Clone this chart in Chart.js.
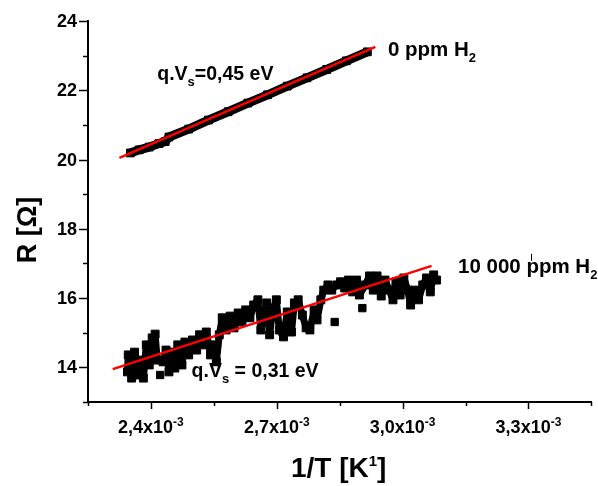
<!DOCTYPE html>
<html>
<head>
<meta charset="utf-8">
<script src="https://cdn.jsdelivr.net/npm/chart.js@4.4.1/dist/chart.umd.min.js"></script>
<style>
html,body{margin:0;padding:0;background:#fff;}
#wrap{width:598px;height:486px;}
</style>
</head>
<body>
<div id="wrap"><canvas id="c" width="598" height="486"></canvas></div>
<script>
// ---- data (x in units of 1e-3 K^-1, y in Ohm) ----
const upperX = [2.351, 2.372, 2.396, 2.419, 2.434, 2.443, 2.490, 2.537, 2.584, 2.631, 2.678, 2.725, 2.772, 2.819, 2.866, 2.916];
const upperY = [20.19, 20.28, 20.36, 20.46, 20.52, 20.65, 20.88, 21.14, 21.38, 21.63, 21.87, 22.12, 22.36, 22.60, 22.85, 23.11];

const lowerX = [2.344, 2.346, 2.354, 2.361, 2.368, 2.375, 2.382, 2.389, 2.396, 2.403, 2.410, 2.415, 2.429, 2.436, 2.443, 2.450, 2.457, 2.464, 2.474, 2.481, 2.490, 2.499, 2.509, 2.516, 2.525, 2.532, 2.542, 2.549, 2.556, 2.563, 2.570, 2.579, 2.589, 2.598, 2.608, 2.617, 2.626, 2.636, 2.645, 2.655, 2.662, 2.669, 2.676, 2.683, 2.690, 2.699, 2.706, 2.716, 2.725, 2.735, 2.742, 2.751, 2.761, 2.770, 2.779, 2.789, 2.796, 2.805, 2.812, 2.822, 2.831, 2.843, 2.852, 2.862, 2.871, 2.881, 2.890, 2.897, 2.911, 2.921, 2.930, 2.939, 2.949, 2.958, 2.968, 2.977, 2.984, 2.994, 3.003, 3.012, 3.019, 3.029, 3.038, 3.048, 3.057, 3.066, 3.074, 3.081];
const lowerY = [13.87, 14.36, 13.69, 14.44, 13.78, 14.21, 13.69, 14.65, 14.07, 14.85, 14.96, 14.21, 14.16, 14.50, 13.87, 14.44, 13.98, 14.65, 14.07, 14.73, 14.36, 14.79, 14.50, 14.94, 14.65, 15.02, 14.36, 14.65, 14.16, 14.94, 15.43, 15.08, 15.48, 15.14, 15.57, 15.31, 15.66, 15.43, 15.80, 15.95, 15.08, 15.43, 15.86, 14.94, 15.66, 15.95, 15.08, 14.88, 15.60, 15.02, 15.86, 15.95, 15.51, 15.14, 15.08, 15.66, 15.37, 15.95, 16.23, 16.38, 16.23, 16.38, 16.47, 16.29, 16.52, 16.18, 16.52, 16.09, 16.38, 16.64, 16.23, 16.64, 16.06, 16.52, 16.23, 15.95, 16.47, 16.09, 16.58, 16.23, 15.80, 16.23, 15.95, 16.38, 16.58, 16.18, 16.67, 16.52];
const lowerIsoX = [2.422, 2.838, 2.904];
const lowerIsoY = [13.78, 15.31, 15.71];

const fitUpperX = [2.325, 2.935];
const fitUpperY = [20.05, 23.25];
const fitLowerX = [2.309, 3.069];
const fitLowerY = [13.95, 16.93];

const xMajorTicks = [2.4, 2.7, 3.0, 3.3];
const xTickMantissa = ['2,4', '2,7', '3,0', '3,3'];
const xTickExponent = '-3';
const yMajorTicks = [14, 16, 18, 20, 22, 24];
const yTickLabels = ['14', '16', '18', '20', '22', '24'];
const xMinorStep = 0.15;
const yMinorStep = 1;

const xTitle = ['1/T [K', '1', ']'];
const yTitle = 'R [Ω]';
const annotations = [
  {x: 2.415, y: 22.30, size: 19.5, parts: [['q.V', 0], ['s', 1], ['=0,45 eV', 0]]},
  {x: 2.965, y: 22.99, size: 20.5, parts: [['0 ppm H', 0], ['2', 1]]},
  {x: 3.132, y: 16.73, size: 20.5, mark: '10 000 ', parts: [['10 000 ppm H', 0], ['2', 1]]},
  {x: 2.497, y: 13.72, size: 19.5, parts: [['q.V', 0], ['s', 1], [' = 0,31 eV', 0]]}
];

const zip = (xs, ys) => xs.map((v, i) => ({x: v, y: ys[i]}));
const FONT = '"Liberation Sans", Arial, sans-serif';

function richWidth(ctx, parts, big, small) {
  let w = 0;
  for (const [t, k] of parts) {
    ctx.font = 'bold ' + (k === 0 ? big : small) + 'px ' + FONT;
    w += ctx.measureText(t).width;
  }
  return w;
}
function drawRich(ctx, x, y, parts, big, small, subDy, supDy) {
  let cx = x;
  for (const [t, k] of parts) {
    ctx.font = 'bold ' + (k === 0 ? big : small) + 'px ' + FONT;
    let dy = 0;
    if (k === 1) dy = subDy;
    if (k === 2) dy = supDy;
    ctx.fillText(t, cx, y + dy);
    cx += ctx.measureText(t).width;
  }
}

const decor = {
  id: 'decor',
  afterDraw(chart) {
    const ctx = chart.ctx;
    const xs = chart.scales.x, ys = chart.scales.y;
    const left = chart.chartArea.left, bottom = chart.chartArea.bottom;
    ctx.save();
    ctx.strokeStyle = '#000';
    ctx.fillStyle = '#000';
    ctx.lineWidth = 1.5;
    for (let v = ys.min; v <= ys.max + 1e-9; v += yMinorStep) {
      const major = yMajorTicks.some(m => Math.abs(m - v) < 1e-6);
      const py = Math.round(ys.getPixelForValue(v)) + 0.5;
      ctx.beginPath();
      ctx.moveTo(left, py);
      ctx.lineTo(left - (major ? 9 : 5), py);
      ctx.stroke();
    }
    for (let v = xs.min; v <= xs.max + 1e-9; v += xMinorStep) {
      const major = xMajorTicks.some(m => Math.abs(m - v) < 1e-6);
      const px = Math.round(xs.getPixelForValue(v)) + 0.5;
      ctx.beginPath();
      ctx.moveTo(px, bottom);
      ctx.lineTo(px, bottom + (major ? 7 : 4));
      ctx.stroke();
    }
    ctx.font = 'bold 18px ' + FONT;
    ctx.textAlign = 'right';
    ctx.textBaseline = 'middle';
    yMajorTicks.forEach((v, i) => {
      ctx.fillText(yTickLabels[i], 77, ys.getPixelForValue(v) + 1);
    });
    ctx.textAlign = 'left';
    ctx.textBaseline = 'alphabetic';
    xMajorTicks.forEach((v, i) => {
      const parts = [[xTickMantissa[i] + 'x10', 0], [xTickExponent, 2]];
      const w = richWidth(ctx, parts, 18, 12);
      const px = xs.getPixelForValue(v);
      drawRich(ctx, px - w / 2, 433, parts, 18, 12, 0, -7);
    });
    {
      const parts = [[xTitle[0], 0], [xTitle[1], 2], [xTitle[2], 0]];
      const w = richWidth(ctx, parts, 28, 15);
      const cx = (chart.chartArea.left + chart.chartArea.right) / 2 - 1;
      drawRich(ctx, cx - w / 2, 477, parts, 28, 15, 0, -11);
    }
    ctx.save();
    ctx.translate(36, 230);
    ctx.rotate(-Math.PI / 2);
    ctx.font = 'bold 27px ' + FONT;
    ctx.textAlign = 'center';
    ctx.fillText(yTitle, 0, 0);
    ctx.restore();
    ctx.textAlign = 'left';
    annotations.forEach(a => {
      const px = xs.getPixelForValue(a.x);
      const py = ys.getPixelForValue(a.y);
      drawRich(ctx, px, py, a.parts, a.size, 13, 6, 0);
      if (a.mark) {
        ctx.font = 'bold ' + a.size + 'px ' + FONT;
        const mx = Math.round(px + ctx.measureText(a.mark).width + 5) + 0.5;
        ctx.lineWidth = 1;
        ctx.beginPath();
        ctx.moveTo(mx, py - 19);
        ctx.lineTo(mx, py - 12);
        ctx.stroke();
      }
    });
    ctx.restore();
  }
};

new Chart(document.getElementById('c'), {
  type: 'line',
  data: {
    datasets: [
      {label: 'fit 0 ppm', data: zip(fitUpperX, fitUpperY), borderColor: '#ff0000', borderWidth: 2.5, pointRadius: 0, order: 0},
      {label: 'fit 10000 ppm', data: zip(fitLowerX, fitLowerY), borderColor: '#ff0000', borderWidth: 2.5, pointRadius: 0, order: 0},
      {label: '0 ppm H2', data: zip(upperX, upperY), borderColor: '#000', backgroundColor: '#000', borderWidth: 9, borderCapStyle: 'butt', borderJoinStyle: 'round', pointStyle: 'rect', pointRadius: 5.5, pointBorderWidth: 1, pointBorderColor: '#000', pointBackgroundColor: '#000', order: 2},
      {label: '10000 ppm H2', data: zip(lowerX, lowerY), borderColor: '#000', backgroundColor: '#000', borderWidth: 7, borderJoinStyle: 'round', pointStyle: 'rect', pointRadius: 5.6, pointBorderWidth: 1, pointBorderColor: '#000', pointBackgroundColor: '#000', order: 2},
      {label: '10000 ppm H2 (isolated)', data: zip(lowerIsoX, lowerIsoY), showLine: false, borderColor: '#000', backgroundColor: '#000', pointStyle: 'rect', pointRadius: 5.2, pointBorderWidth: 1, pointBorderColor: '#000', pointBackgroundColor: '#000', order: 2}
    ]
  },
  options: {
    responsive: false,
    animation: false,
    events: [],
    layout: {padding: {top: 21, right: 0, left: 0, bottom: 0}},
    plugins: {legend: {display: false}, tooltip: {enabled: false}},
    elements: {line: {tension: 0}},
    scales: {
      x: {
        type: 'linear', min: 2.25, max: 3.45,
        grid: {display: false, drawTicks: false},
        ticks: {display: false},
        border: {display: true, color: '#000', width: 2},
        afterFit(s) { s.height = 84; }
      },
      y: {
        type: 'linear', min: 13, max: 24,
        grid: {display: false, drawTicks: false},
        ticks: {display: false},
        border: {display: true, color: '#000', width: 2},
        afterFit(s) { s.width = 88; }
      }
    }
  },
  plugins: [decor]
});
</script>
</body>
</html>
